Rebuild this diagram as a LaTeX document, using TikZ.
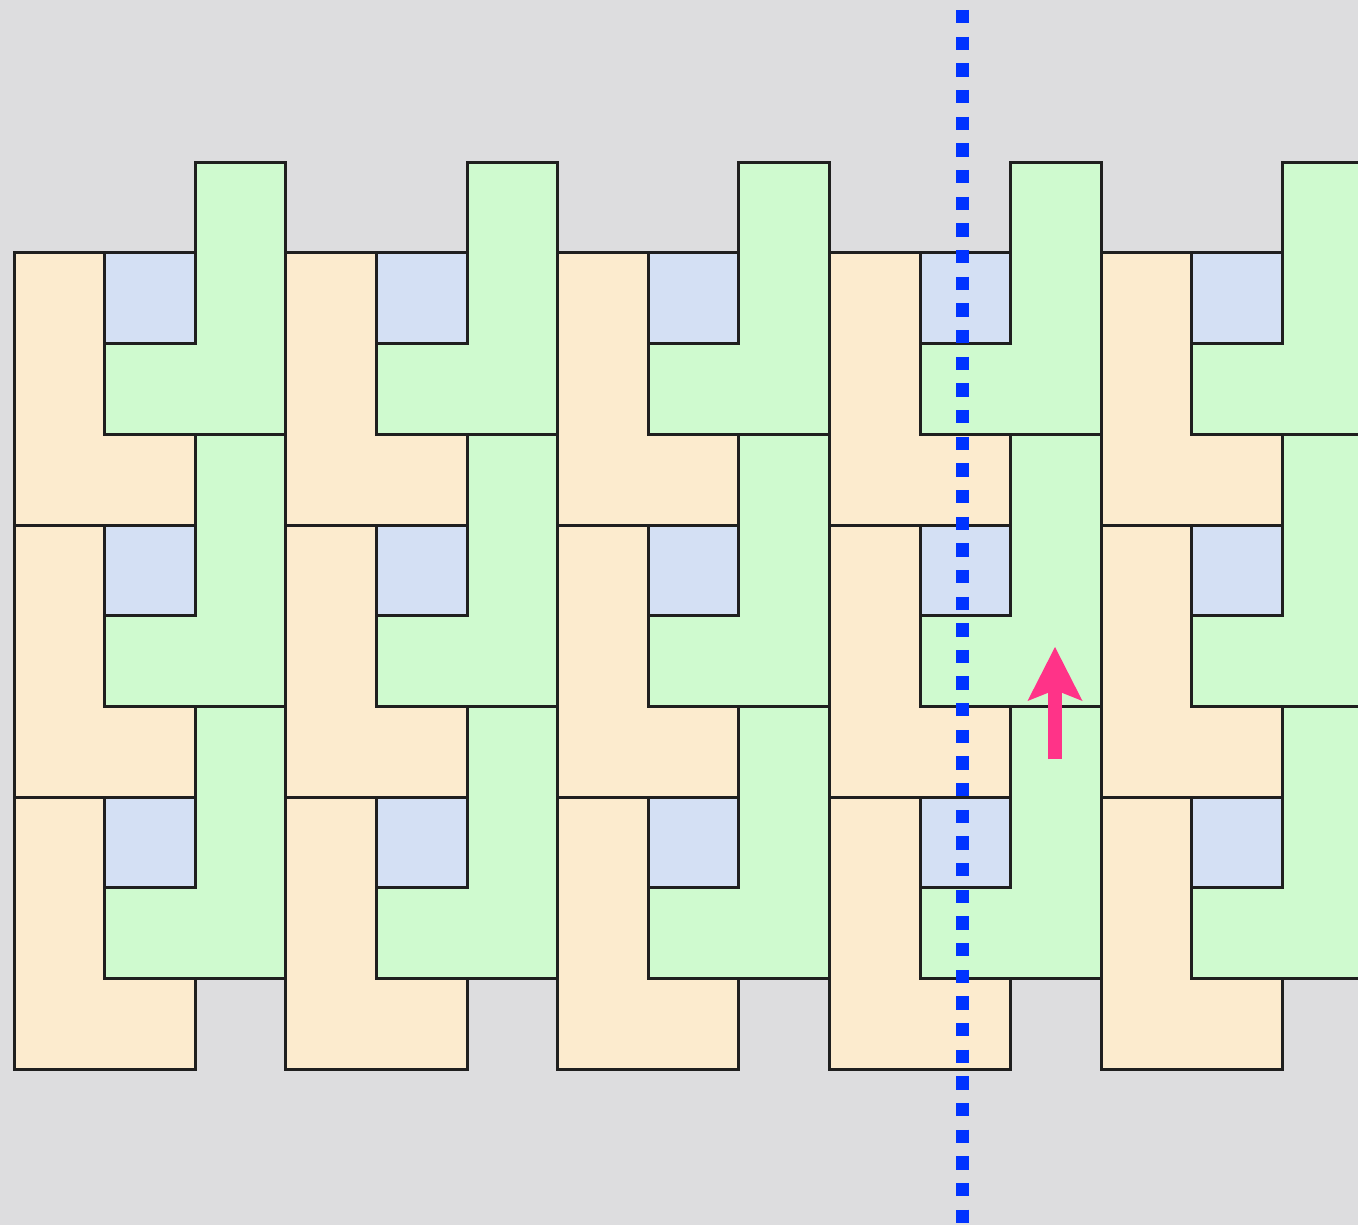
\documentclass[tikz,border=0pt]{standalone}
\usetikzlibrary{arrows.meta}
\definecolor{bg}{RGB}{221,221,223}
\definecolor{beigeL}{RGB}{252,235,206}
\definecolor{blueSq}{RGB}{212,224,244}
\definecolor{greenL}{RGB}{207,250,207}
\definecolor{dotblue}{RGB}{0,51,255}
\definecolor{pinkarrow}{RGB}{255,51,136}
\begin{document}
\begin{tikzpicture}[x=1pt,y=-1pt,
  tile/.style={draw=black!88, line width=3pt, line join=miter},
  beigetile/.style={tile, fill=beigeL},
  bluetile/.style={tile, fill=blueSq},
  greentile/.style={tile, fill=greenL},
  mirrorline/.style={dotblue, line width=13pt, dash pattern=on 13.33pt off 13.33pt},
  shiftarrow/.style={pinkarrow, line width=14pt, -{Stealth[length=54pt,width=55pt,inset=11pt,line width=0pt]}}]
\useasboundingbox (0,0) rectangle (1358,1225);
\fill[bg] (0,0) rectangle (1358,1225);
\begin{scope}
\clip (0,0) rectangle (1358,1225);
\def\v{90.667}
\def\u{90.6}
\foreach \i in {0,...,4}{
  \foreach \j in {0,1,2}{
    \pgfmathsetmacro\X{14+3*\u*\i}
    \pgfmathsetmacro\Y{253+272*\j}
    \draw[beigetile] (\X,\Y) -- (\X+\u,\Y) -- (\X+\u,\Y+2*\v) -- (\X+2*\u,\Y+2*\v)
      -- (\X+2*\u,\Y+3*\v) -- (\X,\Y+3*\v) -- cycle;
    \draw[bluetile] (\X+\u,\Y) rectangle (\X+2*\u,\Y+\v);
    \draw[greentile] (\X+2*\u,\Y-\v) -- (\X+3*\u,\Y-\v) -- (\X+3*\u,\Y+2*\v) -- (\X+\u,\Y+2*\v)
      -- (\X+\u,\Y+\v) -- (\X+2*\u,\Y+\v) -- cycle;
  }
}
\coordinate (lineTop) at (962,-16.67);
\coordinate (lineBot) at (962,1240);
\draw[mirrorline] (lineTop) -- (lineBot);
\end{scope}
\coordinate (arrStart) at (1055,759);
\coordinate (arrTip) at (1055,647);
\draw[shiftarrow] (arrStart) -- (arrTip);
\end{tikzpicture}
\end{document}
